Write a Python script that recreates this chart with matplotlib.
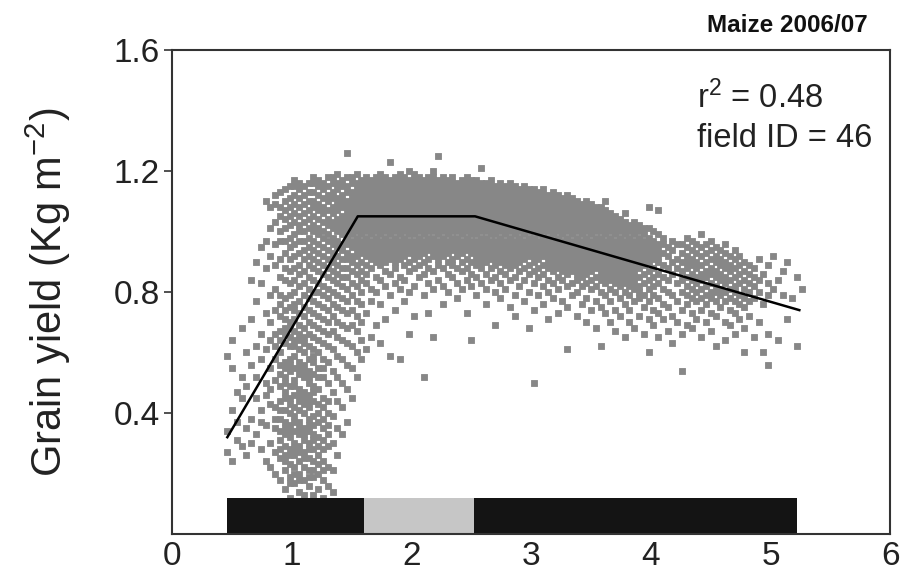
import matplotlib
matplotlib.use("Agg")
import matplotlib.pyplot as plt
import numpy as np

plt.rcParams['font.family'] = ['Liberation Sans', 'DejaVu Sans']
plt.rcParams['mathtext.fontset'] = 'custom'
plt.rcParams['mathtext.rm'] = 'Liberation Sans'
plt.rcParams['mathtext.it'] = 'Liberation Sans'

# scatter, column by column: "x: y y y ..." (y in hundredths of Kg m-2)
yield_columns = [
    "0.46: 27 34 59", "0.50: 24 41 55 64", "0.54: 31 37 47", "0.58: 29 45 52 68",
    "0.62: 26 35 49 60", "0.66: 30 38 56 71 84", "0.70: 33 45 52 62 77 90",
    "0.74: 28 37 41 58 66 83 95", "0.78: 24 36 46 50 61 73 88 97 110",
    "0.82: 22 30 43 48 55 64 70 79 92 101 108",
    "0.86: 20 27 35 38 42 51 58 62 66 74 81 89 96 103 109 112",
    "0.90: 18 25 28 31 34 38 41 44 49 53 56 60 64 67 72 76 79 85 91 97 100 105 108 113",
    "0.94: 15 21 24 26 29 33 35 37 41 45 47 50 52 55 57 63 66 68 71 74 78 84 88 93 97 101 104 107 110 114",
    "0.98: 12 17 19 23 26 28 32 34 36 40 43 45 49 54 56 58 62 65 68 70 75 79 83 87 91 95 98 102 105 108 111 115",
    "1.02: 10 17 20 22 26 28 30 34 37 39 42 46 49 51 55 59 62 64 67 71 74 76 80 84 88 92 96 99 103 106 109 112 115 117",
    "1.06: 14 18 20 24 27 29 33 35 37 41 44 46 48 53 55 57 61 64 66 69 73 77 82 86 89 93 97 100 102 105 108 111 114 116",
    "1.10: 9 13 18 22 25 27 31 33 35 40 43 45 47 52 54 56 60 63 65 68 72 75 79 83 87 91 94 97 100 103 106 109 112 115",
    "1.14: 11 16 19 21 25 28 30 34 36 38 42 44 46 50 52 54 58 62 66 70 74 78 81 85 89 92 95 98 101 104 107 110 113 116",
    "1.18: 13 19 21 24 28 31 33 36 39 44 47 49 53 57 59 61 65 69 73 77 80 84 88 91 94 97 100 102 105 108 110 113 116 118",
    "1.22: 5 9 15 20 23 26 29 32 37 40 43 48 52 55 60 64 68 72 76 80 83 87 90 93 96 99 101 104 107 109 112 115 117",
    "1.26: 8 12 18 21 24 28 31 35 38 42 45 52 55 58 63 67 71 75 79 82 86 89 92 95 98 100 103 106 108 111 114 116",
    "1.30: 10 16 22 29 33 36 40 44 50 57 62 66 70 74 78 81 85 88 91 94 97 99 102 104 107 110 112 115 118",
    "1.34: 14 21 30 39 47 54 61 67 72 76 80 84 87 90 93 96 98 101 103 106 108 111 113 116 118",
    "1.38: 26 35 44 52 59 65 70 75 79 83 86 89 92 95 97 100 102 104 107 109 111 114 116 119",
    "1.42: 33 42 50 58 64 69 74 78 82 85 88 91 94 96 99 101 103 105 108 110 112 115 117",
    "1.46: 37 48 56 63 68 73 77 81 85 88 91 93 96 98 100 102 104 106 108 110 113 115 118 126",
    "1.50: 45 55 62 69 74 79 83 87 90 92 95 97 99 101 103 105 107 109 111 113 116 118",
    "1.54: 52 60 67 72 77 82 86 89 92 94 96 98 100 102 104 106 108 110 112 114 116 119",
    "1.58: 58 64 70 76 80 84 87 90 93 95 97 99 101 103 105 107 109 111 113 115 117",
    "1.62: 61 73 83 86 89 92 94 96 98 100 102 104 106 108 110 112 114 116 118",
    "1.66: 65 77 81 88 91 93 95 97 99 101 103 105 107 109 111 113 115 117",
    "1.70: 69 80 85 90 92 94 96 98 100 102 104 106 108 110 112 114 116 118",
    "1.74: 63 76 84 89 91 93 95 97 99 101 103 105 107 109 111 113 115 117 119",
    "1.78: 71 82 87 90 92 94 96 98 100 102 104 106 108 110 112 114 116 118",
    "1.82: 59 79 86 91 93 95 97 99 101 103 105 107 109 111 113 115 117 123",
    "1.86: 74 83 88 90 92 94 96 98 100 102 104 106 108 110 112 114 116 118",
    "1.90: 58 81 85 91 93 95 97 99 101 103 105 107 109 111 113 115 117 119",
    "1.94: 77 84 89 92 94 96 98 100 102 104 106 108 110 112 114 116 118",
    "1.98: 66 80 87 90 93 95 97 99 101 103 105 107 109 111 113 115 117 120",
    "2.02: 72 82 88 91 93 95 97 99 101 103 105 107 109 111 113 115 117 119",
    "2.06: 85 89 92 94 96 98 100 102 104 106 108 110 112 114 116 118",
    "2.10: 52 79 86 90 93 95 97 99 101 103 105 107 109 111 113 115 117",
    "2.14: 73 83 88 91 94 96 98 100 102 104 106 108 110 112 114 116 118",
    "2.18: 65 81 87 92 94 96 98 100 102 104 106 108 110 112 114 116 118 120",
    "2.22: 84 89 91 93 95 97 99 101 103 105 107 109 111 113 115 117 125",
    "2.26: 76 82 88 92 94 96 98 100 102 104 106 108 110 112 114 116 118",
    "2.30: 80 86 90 93 95 97 99 101 103 105 107 109 111 113 115 117",
    "2.34: 85 89 91 94 96 98 100 102 104 106 108 110 112 114 116 118",
    "2.38: 78 83 88 92 94 96 98 100 102 104 106 108 110 112 114 116",
    "2.42: 81 87 90 93 95 97 99 101 103 105 107 109 111 113 115 117",
    "2.46: 73 84 88 91 94 96 98 100 102 104 106 108 110 112 114 116 118",
    "2.50: 64 82 86 90 93 95 97 99 101 103 105 107 109 111 113 115 117",
    "2.54: 79 85 89 91 93 95 97 99 101 103 105 107 109 111 113 115 117",
    "2.58: 83 88 90 92 94 96 98 100 102 104 106 108 110 112 114 116 121",
    "2.62: 76 81 86 90 92 94 96 98 100 102 104 106 108 110 112 114 116",
    "2.66: 84 88 91 93 95 97 99 101 103 105 107 109 111 113 115 117",
    "2.70: 69 80 85 89 91 93 95 97 99 101 103 105 107 109 111 113 115",
    "2.74: 78 83 87 90 92 94 96 98 100 102 104 106 108 110 112 114 116",
    "2.78: 81 86 89 91 93 95 97 99 101 103 105 107 109 111 113 115",
    "2.82: 75 84 88 90 92 94 96 98 100 102 104 106 108 110 112 114 116",
    "2.86: 72 79 85 89 91 93 95 97 99 101 103 105 107 109 111 113 115",
    "2.90: 82 87 90 92 94 96 98 100 102 104 106 108 110 112 114",
    "2.94: 77 84 88 91 93 95 97 99 101 103 105 107 109 111 113 115",
    "2.98: 68 80 86 89 92 94 96 98 100 102 104 106 108 110 112 114",
    "3.02: 50 74 83 87 90 92 94 96 98 100 102 104 106 108 110 112 114",
    "3.06: 79 85 88 91 93 95 97 99 101 103 105 107 109 111 113",
    "3.10: 76 82 86 89 92 94 96 98 100 102 104 106 108 110 112 114",
    "3.14: 71 80 84 88 90 92 94 96 98 100 102 104 106 108 110 112",
    "3.18: 78 83 87 89 91 93 95 97 99 101 103 105 107 109 111 113",
    "3.22: 73 81 85 88 90 92 94 96 98 100 102 104 106 108 110 112",
    "3.26: 77 84 87 89 91 93 95 97 99 101 103 105 107 109 111",
    "3.30: 61 75 82 86 88 90 92 94 96 98 100 102 104 106 108 110 112",
    "3.34: 79 83 87 89 91 93 95 97 99 101 103 105 107 109 111",
    "3.38: 72 80 84 86 88 90 92 94 96 98 100 102 104 106 108 110",
    "3.42: 76 82 85 87 89 91 93 95 97 99 101 103 105 107 109",
    "3.46: 70 78 83 86 88 90 92 94 96 98 100 102 104 106 108 110",
    "3.50: 74 81 84 87 89 91 93 95 97 99 101 103 105 107 109",
    "3.54: 68 77 82 85 88 90 92 94 96 98 100 102 104 106 108",
    "3.58: 62 75 80 84 86 88 90 92 94 96 98 100 102 104 106 108",
    "3.62: 73 79 83 85 87 89 91 93 95 97 99 101 103 105 107 110",
    "3.66: 70 77 81 84 86 88 90 92 94 96 98 100 102 104 106",
    "3.70: 67 74 80 83 85 87 89 91 93 95 97 99 101 103 105",
    "3.74: 72 78 82 84 86 88 90 92 94 96 98 100 102 104",
    "3.78: 65 76 80 83 85 87 89 91 93 95 97 99 101 103 106",
    "3.82: 70 74 79 82 84 86 88 90 92 94 96 98 100 102",
    "3.86: 68 77 81 83 85 87 89 91 93 95 97 99 101 103",
    "3.90: 72 78 80 82 85 88 90 92 94 96 98 100 102",
    "3.94: 66 75 79 83 86 89 91 93 95 97 99 101",
    "3.98: 60 71 77 81 84 87 90 92 94 96 98 101 108",
    "4.02: 69 74 79 82 85 88 91 93 95 97 100",
    "4.06: 65 73 78 83 86 90 92 94 96 99 107",
    "4.10: 71 76 81 85 89 93 96 98", "4.14: 67 75 80 84 88 92 95",
    "4.18: 63 72 79 86 90 94 97", "4.22: 70 77 83 88 91 96",
    "4.26: 54 66 74 80 84 87 90 93 96", "4.30: 69 76 79 82 85 88 90 92 95 98",
    "4.34: 68 73 78 81 84 86 89 91 94 97", "4.38: 71 77 80 83 85 88 90 93 96",
    "4.42: 65 74 78 81 84 86 89 92 95 99", "4.46: 70 76 79 82 85 87 90 93 96",
    "4.50: 67 73 78 80 83 86 88 91 94 97", "4.54: 62 72 77 80 82 85 87 90 92 95",
    "4.58: 75 79 81 84 86 89 91 94", "4.62: 64 70 77 80 83 85 88 90 93 96",
    "4.66: 69 74 78 81 84 87 89 92", "4.70: 66 73 77 80 82 85 88 91 94",
    "4.74: 71 76 79 83 86 89 92", "4.78: 60 68 75 78 81 84 87 90",
    "4.82: 72 77 80 83 86 89", "4.86: 65 78 82 85 88", "4.90: 70 80 84 91",
    "4.94: 60 76 86", "4.98: 56 66 79 83 89", "5.02: 81 92", "5.06: 64 84",
    "5.10: 79 87", "5.14: 71 90", "5.18: 78", "5.22: 62 85", "5.26: 81",
]

# fitted broken-line model
fit_x = [0.46, 1.55, 2.53, 5.24]
fit_y = [0.32, 1.05, 1.05, 0.74]

# zones bar along the bottom
zone_start = [0.46, 1.60, 2.52]
zone_end = [1.60, 2.52, 5.22]
zone_color = ['#141414', '#c6c6c6', '#141414']
zone_height = 0.12

x_ticks = [0, 1, 2, 3, 4, 5, 6]
y_ticks = [0.4, 0.8, 1.2, 1.6]

sx, sy = [], []
for col in yield_columns:
    xs, ys = col.split(':')
    for v in ys.split():
        sx.append(float(xs))
        sy.append(int(v) / 100)

fig = plt.figure(figsize=(9.02, 5.77), dpi=100)
ax = fig.add_axes([0.191, 0.0745, 0.796, 0.839])

# thin edge in the face colour closes the hairline gaps between neighbouring squares
ax.scatter(sx, sy, s=19, marker='s', color='#878787', edgecolors='#878787',
           linewidths=0.6, zorder=2)
ax.plot(fit_x, fit_y, color='black', lw=1.8, zorder=3)

ax.bar(zone_start, zone_height, width=np.subtract(zone_end, zone_start),
       align='edge', color=zone_color, edgecolor='none', zorder=4)

ax.set_xlim(0, 6)
ax.set_ylim(0, 1.6)
ax.set_xticks(x_ticks)
ax.set_yticks(y_ticks)
ax.set_yticklabels([f'{v:.1f}' for v in y_ticks])
ax.tick_params(axis='x', direction='in', length=7, width=1.2, labelsize=24, pad=5, colors='#333333')
ax.tick_params(axis='y', direction='out', length=6, width=1.2, labelsize=24, pad=3, colors='#333333')
for lab in ax.get_xticklabels() + ax.get_yticklabels():
    lab.set_color('#222222')
for sp in ax.spines.values():
    sp.set_linewidth(1.5)
    sp.set_color('#333333')
    sp.set_zorder(5)

ax.set_ylabel('Grain yield (Kg m$^{-2}$)', fontsize=30, color='#222222', labelpad=29)
ax.text(0.731, 0.902, 'r$^2$ = 0.48', transform=ax.transAxes, fontsize=23.5, color='#222222', va='center')
ax.text(0.731, 0.818, 'field ID = 46', transform=ax.transAxes, fontsize=23.5, color='#222222', va='center')
fig.text(0.962, 0.955, 'Maize 2006/07', ha='right', va='center', fontsize=17.5,
         fontweight='bold', color='#111111')

fig.savefig('out.png', dpi=100)
